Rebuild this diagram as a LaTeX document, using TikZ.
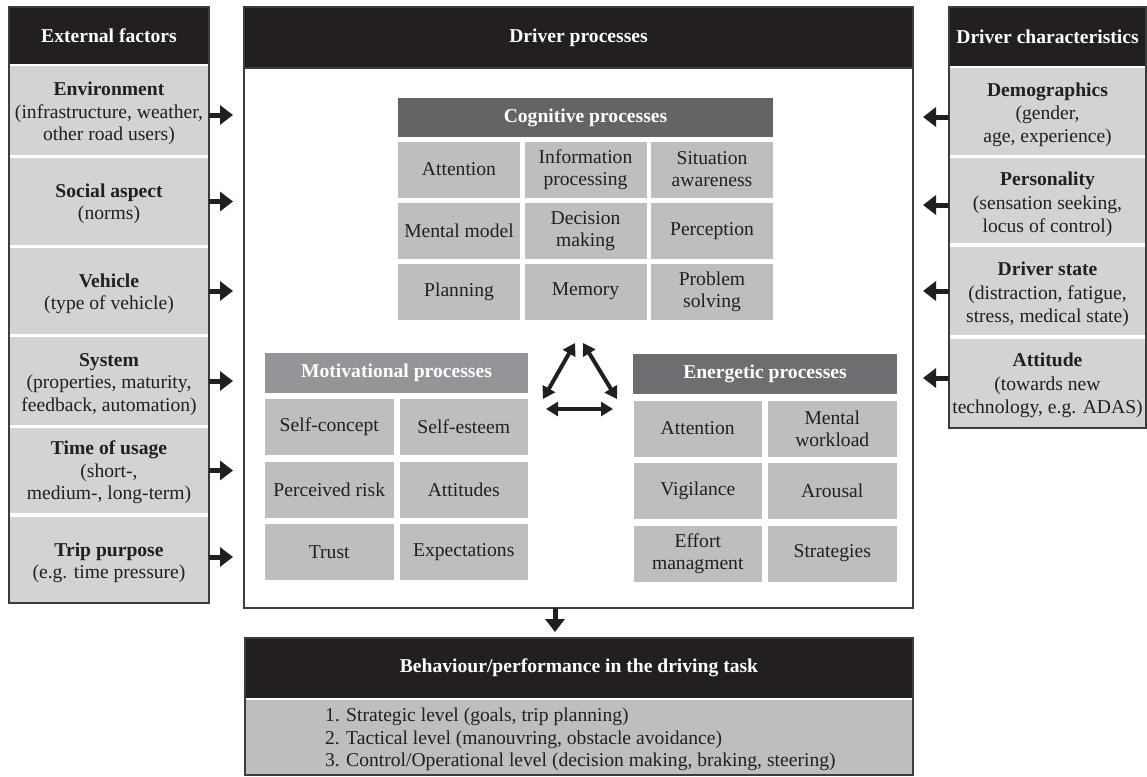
\documentclass[tikz,border=0pt]{standalone}
\usepackage{fontspec}
\setmainfont{Liberation Serif}
\usetikzlibrary{arrows.meta}
\definecolor{hdrblack}{RGB}{35,31,32}
\definecolor{framecol}{RGB}{60,59,61}
\definecolor{sidegray}{RGB}{209,211,212}
\definecolor{cellgray}{RGB}{188,190,192}
\definecolor{coghdr}{RGB}{99,100,102}
\definecolor{mothdr}{RGB}{147,149,152}
\definecolor{enehdr}{RGB}{109,110,113}
\definecolor{txt}{RGB}{35,31,32}
\begin{document}
\begin{tikzpicture}[x=1pt,y=-1pt,
  every node/.style={inner sep=0pt, outer sep=0pt, font=\fontsize{19.6}{22}\selectfont, text=txt, align=center},
  blackhdr/.style={fill=hdrblack, text=white, font=\fontsize{19.6}{22}\selectfont\bfseries},
  grayhdr/.style={fill=#1, text=white, font=\fontsize{19.6}{22}\selectfont\bfseries},
  sidecell/.style={fill=sidegray},
  lefttext/.style={font=\fontsize{19.6}{22.3}\selectfont},
  righttext/.style={font=\fontsize{19.6}{23.3}\selectfont},
  cogcell/.style={fill=cellgray, minimum width=122pt, minimum height=56pt},
  twocell/.style={fill=cellgray, minimum width=128.5pt, minimum height=56pt},
  frameline/.style={draw=framecol, line width=1.8pt},
  bigarr/.style={draw=hdrblack, line width=5pt, -{Triangle[length=13pt,width=19pt]}},
  triarr/.style={draw=hdrblack, line width=4pt, {Triangle[length=12pt,width=14pt]}-{Triangle[length=12pt,width=14pt]}}
]
\useasboundingbox (0,0) rectangle (1147,776);
\fill[white] (0,0) rectangle (1147,776);

% ---------- left column: external factors ----------
\node[blackhdr, minimum width=200pt, minimum height=57pt] (exthdr) at (109,35.5) {External factors};
\node[sidecell, minimum width=200pt, minimum height=89pt] (env) at (109,110.5) {};
\node[sidecell, minimum width=200pt, minimum height=87pt] (soc) at (109,201.5) {};
\node[sidecell, minimum width=200pt, minimum height=86pt] (veh) at (109,291) {};
\node[sidecell, minimum width=200pt, minimum height=88pt] (sys) at (109,381) {};
\node[sidecell, minimum width=200pt, minimum height=85pt] (tim) at (109,470.5) {};
\node[sidecell, minimum width=200pt, minimum height=86pt] (trip) at (109,560) {};
\node[lefttext] (envt) at ([yshift=-3pt]env.center) {\textbf{Environment}\\(infrastructure, weather,\\other road users)};
\node[lefttext] (soct) at ([yshift=-2.5pt]soc.center) {\textbf{Social aspect}\\(norms)};
\node[lefttext] (veht) at ([yshift=-3pt]veh.center) {\textbf{Vehicle}\\(type of vehicle)};
\node[lefttext] (syst) at ([yshift=-3.5pt]sys.center) {\textbf{System}\\(properties, maturity,\\feedback, automation)};
\node[lefttext] (timt) at ([yshift=-2pt]tim.center) {\textbf{Time of usage}\\(short-,\\medium-, long-term)};
\node[lefttext] (tript) at ([yshift=-3pt]trip.center) {\textbf{Trip purpose}\\(e.g. time pressure)};
\draw[frameline] (9,7) rectangle (209,603);

% ---------- right column: driver characteristics ----------
\node[blackhdr, minimum width=197pt, minimum height=59pt] (chhdr) at (1047.5,36.5) {Driver characteristics};
\node[sidecell, minimum width=197pt, minimum height=87pt] (demo) at (1047.5,111.5) {};
\node[sidecell, minimum width=197pt, minimum height=85pt] (pers) at (1047.5,200.5) {};
\node[sidecell, minimum width=197pt, minimum height=88pt] (dst) at (1047.5,291) {};
\node[sidecell, minimum width=197pt, minimum height=88pt] (att) at (1047.5,383) {};
\node[righttext] (demot) at ([yshift=-3.5pt]demo.center) {\textbf{Demographics}\\(gender,\\age, experience)};
\node[righttext] (perst) at ([yshift=-4pt]pers.center) {\textbf{Personality}\\(sensation seeking,\\locus of control)};
\node[righttext] (dstt) at ([yshift=-3.5pt]dst.center) {\textbf{Driver state}\\(distraction, fatigue,\\stress, medical state)};
\node[righttext] (attt) at ([yshift=-2.5pt]att.center) {\textbf{Attitude}\\(towards new\\technology, e.g. ADAS)};
\draw[frameline] (949,7) rectangle (1146,428);

% ---------- centre: driver processes ----------
\node[blackhdr, minimum width=669pt, minimum height=61pt] (dphdr) at (578.5,37.5) {Driver processes};
\node[frameline, minimum width=669pt, minimum height=540pt] (dpbox) at (578.5,338) {};
\draw[frameline] (244,7) rectangle (913,608);

% cognitive
\node[grayhdr=coghdr, minimum width=375pt, minimum height=39pt] (coghd) at (585.5,117.5) {Cognitive processes};
\node[cogcell] (c11) at (459,169.5) {Attention};
\node[cogcell] (c12) at (585.5,169.5) {Information\\processing};
\node[cogcell] (c13) at (712,169.5) {Situation\\awareness};
\node[cogcell] (c21) at (459,231) {Mental model};
\node[cogcell] (c22) at (585.5,231) {Decision\\making};
\node[cogcell] (c23) at (712,231) {Perception};
\node[cogcell] (c31) at (459,291.5) {Planning};
\node[cogcell] (c32) at (585.5,291.5) {Memory};
\node[cogcell] (c33) at (712,291.5) {Problem\\solving};

% motivational
\node[grayhdr=mothdr, minimum width=263pt, minimum height=40pt] (mothd) at (396.5,373) {Motivational processes};
\node[twocell] (m11) at (329.25,427) {Self-concept};
\node[twocell] (m12) at (463.75,427) {Self-esteem};
\node[twocell] (m21) at (329.25,489.5) {Perceived risk};
\node[twocell] (m22) at (463.75,489.5) {Attitudes};
\node[twocell] (m31) at (329.25,552) {Trust};
\node[twocell] (m32) at (463.75,552) {Expectations};

% energetic
\node[grayhdr=enehdr, minimum width=264pt, minimum height=40pt] (enehd) at (765,374) {Energetic processes};
\node[twocell] (e11) at (697.75,428.5) {Attention};
\node[twocell] (e12) at (832.25,428.5) {Mental\\workload};
\node[twocell] (e21) at (697.75,491) {Vigilance};
\node[twocell] (e22) at (832.25,491) {Arousal};
\node[twocell] (e31) at (697.75,553.5) {Effort\\managment};
\node[twocell] (e32) at (832.25,553.5) {Strategies};

% triangle of double arrows
\coordinate (tA1) at (575,343);
\coordinate (tA2) at (543,399);
\coordinate (tB1) at (583,343);
\coordinate (tB2) at (617,399);
\coordinate (tC1) at (546,409);
\coordinate (tC2) at (613,409);
\draw[triarr] (tA1) -- (tA2);
\draw[triarr] (tB1) -- (tB2);
\draw[triarr] (tC1) -- (tC2);

% ---------- bottom: behaviour ----------
\node[blackhdr, minimum width=668pt, minimum height=60pt] (behhdr) at (579,668) {Behaviour/performance in the driving task};
\node[fill=cellgray, minimum width=668pt, minimum height=75pt] (behbody) at (579,737.5) {};
\node[anchor=west, align=left, font=\fontsize{19.6}{22.5}\selectfont] (behtext) at (325,739.5) {1. Strategic level (goals, trip planning)\\2. Tactical level (manouvring, obstacle avoidance)\\3. Control/Operational level (decision making, braking, steering)};
\draw[frameline] (245,638) rectangle (913,775);

% ---------- arrows ----------
\coordinate (lefttip) at (233,0);
\coordinate (righttip) at (923,0);
\coordinate (downx) at (555,0);
\draw[bigarr] ([yshift=-4.5pt]env.east) -- ([yshift=-4.5pt]env.east -| lefttip);
\draw[bigarr] (soc.east) -- (soc.east -| lefttip);
\draw[bigarr] (veh.east) -- (veh.east -| lefttip);
\draw[bigarr] (sys.east) -- (sys.east -| lefttip);
\draw[bigarr] (tim.east) -- (tim.east -| lefttip);
\draw[bigarr] ([yshift=3pt]trip.east) -- ([yshift=3pt]trip.east -| lefttip);
\draw[bigarr] ([yshift=-5.5pt]demo.west) -- ([yshift=-5.5pt]demo.west -| righttip);
\draw[bigarr] ([yshift=-4.5pt]pers.west) -- ([yshift=-4.5pt]pers.west -| righttip);
\draw[bigarr] (dst.west) -- (dst.west -| righttip);
\draw[bigarr] ([yshift=5pt]att.west) -- ([yshift=5pt]att.west -| righttip);
\draw[bigarr, shorten >=6pt] (dpbox.south -| downx) -- (behhdr.north -| downx);
\end{tikzpicture}
\end{document}
